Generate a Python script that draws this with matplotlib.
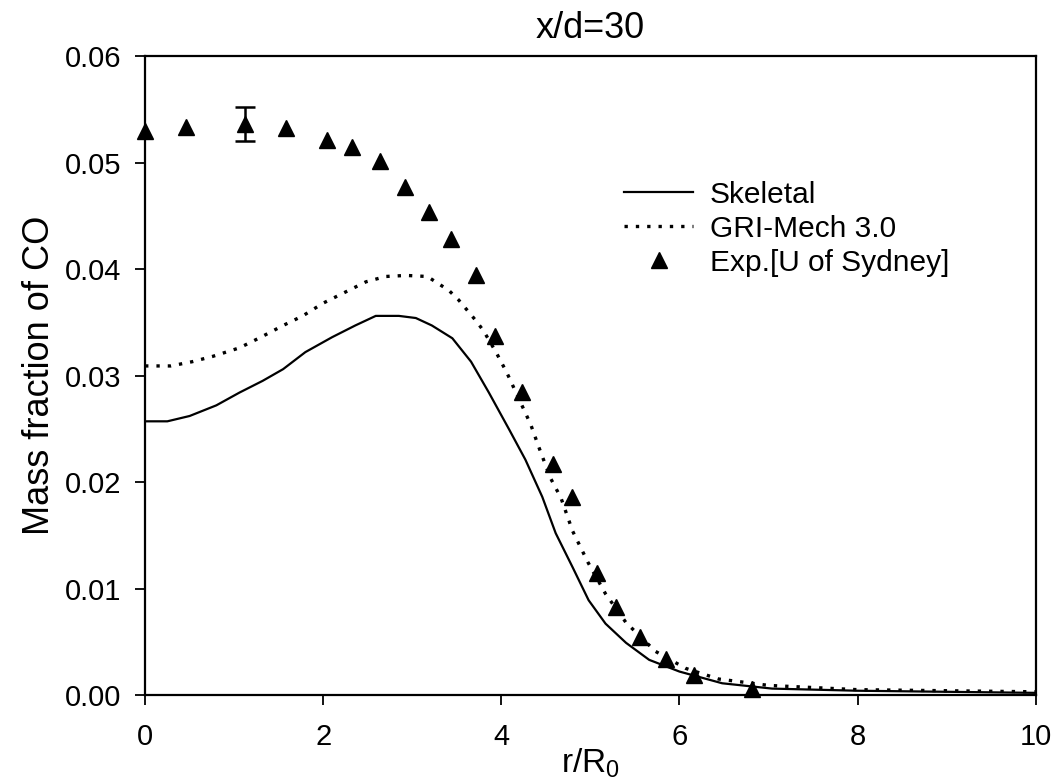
import matplotlib
matplotlib.use("Agg")
import matplotlib.pyplot as plt

plt.rcParams['font.family'] = ['Liberation Sans', 'DejaVu Sans']

title = "x/d=30"
xlabel = "r/R$_{\\mathregular{0}}$"
ylabel = "Mass fraction of CO"

skel_r = [0, 0.25, 0.5, 0.8, 1.06, 1.32, 1.55, 1.8, 2.1, 2.36, 2.59, 2.85, 3.04, 3.22,
          3.45, 3.66, 3.86, 4.09, 4.27, 4.46, 4.61, 4.80, 4.98, 5.17, 5.40, 5.66, 6.0,
          6.48, 7.04, 8.0, 9.0, 10.0]
skel_y = [0.0257, 0.0257, 0.0262, 0.0272, 0.0284, 0.0295, 0.0306, 0.0322, 0.0336, 0.0347,
          0.0356, 0.0356, 0.0354, 0.0347, 0.0335, 0.0313, 0.0284, 0.0249, 0.0221, 0.0186,
          0.0152, 0.0120, 0.0089, 0.0067, 0.0049, 0.0033, 0.0022, 0.0011, 0.0006, 0.0004,
          0.0003, 0.0002]

gri_r = [0, 0.29, 0.53, 0.76, 1.06, 1.30, 1.55, 1.77, 2.0, 2.24, 2.48, 2.70, 2.93, 3.17,
         3.28, 3.41, 3.52, 3.62, 3.72, 3.80, 3.94, 4.06, 4.22, 4.33, 4.42, 4.55, 4.67, 4.80,
         4.97, 5.17, 5.40, 5.73, 6.07, 6.44, 7.0, 8.0, 9.0, 10.0]
gri_y = [0.0309, 0.0309, 0.0313, 0.0318, 0.0326, 0.0336, 0.0347, 0.0356, 0.0368, 0.0378,
         0.0388, 0.0393, 0.0394, 0.0393, 0.0387, 0.0380, 0.0371, 0.0361, 0.0351, 0.0342,
         0.0322, 0.0303, 0.0274, 0.0254, 0.0233, 0.0204, 0.0185, 0.0154, 0.0125, 0.0095,
         0.0068, 0.0041, 0.0025, 0.0015, 0.0009, 0.0005, 0.0004, 0.0003]

exp_r = [0, 0.46, 1.12, 1.58, 2.04, 2.32, 2.64, 2.92, 3.19, 3.43, 3.71, 3.93, 4.23, 4.58,
         4.79, 5.07, 5.29, 5.56, 5.85, 6.16, 6.81]
exp_y = [0.0530, 0.0533, 0.0536, 0.0532, 0.0521, 0.0515, 0.0501, 0.0477, 0.0454, 0.0428,
         0.0394, 0.0337, 0.0285, 0.0217, 0.0186, 0.0115, 0.0083, 0.0054, 0.0034, 0.0019,
         0.0006]

err_r = [1.12]
err_y = [0.0536]
err_lo = [0.0016]
err_hi = [0.0016]

xticks = [0, 2, 4, 6, 8, 10]
yticks = [0.00, 0.01, 0.02, 0.03, 0.04, 0.05, 0.06]
ytick_labels = ["0.00", "0.01", "0.02", "0.03", "0.04", "0.05", "0.06"]

fig = plt.figure(figsize=(10.59, 7.83), dpi=100)
ax = fig.add_axes([0.137, 0.1124, 0.841, 0.816])

ax.plot(skel_r, skel_y, color='black', lw=1.6, label='Skeletal')
ax.plot(gri_r, gri_y, color='black', lw=2.4, linestyle=(0, (1, 2.4)), label='GRI-Mech 3.0')
ax.errorbar(err_r, err_y, yerr=[err_lo, err_hi], fmt='none', ecolor='black',
            elinewidth=1.8, capsize=7, capthick=1.8)
ax.plot(exp_r, exp_y, linestyle='none', marker='^', color='black', markersize=12,
        label='Exp.[U of Sydney]', clip_on=False, zorder=5)

ax.set_xlim(0, 10)
ax.set_ylim(0, 0.06)
ax.set_xticks(xticks)
ax.set_yticks(yticks)
ax.set_yticklabels(ytick_labels)
ax.tick_params(direction='out', length=7, width=1.3, labelsize=21)
ax.tick_params(axis='y', pad=10)
ax.tick_params(axis='x', pad=13)
for s in ax.spines.values():
    s.set_linewidth(1.6)

ax.set_title(title, fontsize=26, pad=13)
ax.set_xlabel(xlabel, fontsize=24, labelpad=-3)
ax.set_ylabel(ylabel, fontsize=26, labelpad=6)

leg = ax.legend(loc='upper left', bbox_to_anchor=(0.5215, 0.828), frameon=False,
                fontsize=21.5, handlelength=2.3, handletextpad=0.55, labelspacing=0.2,
                borderpad=0)

fig.savefig('out.png', dpi=100)
